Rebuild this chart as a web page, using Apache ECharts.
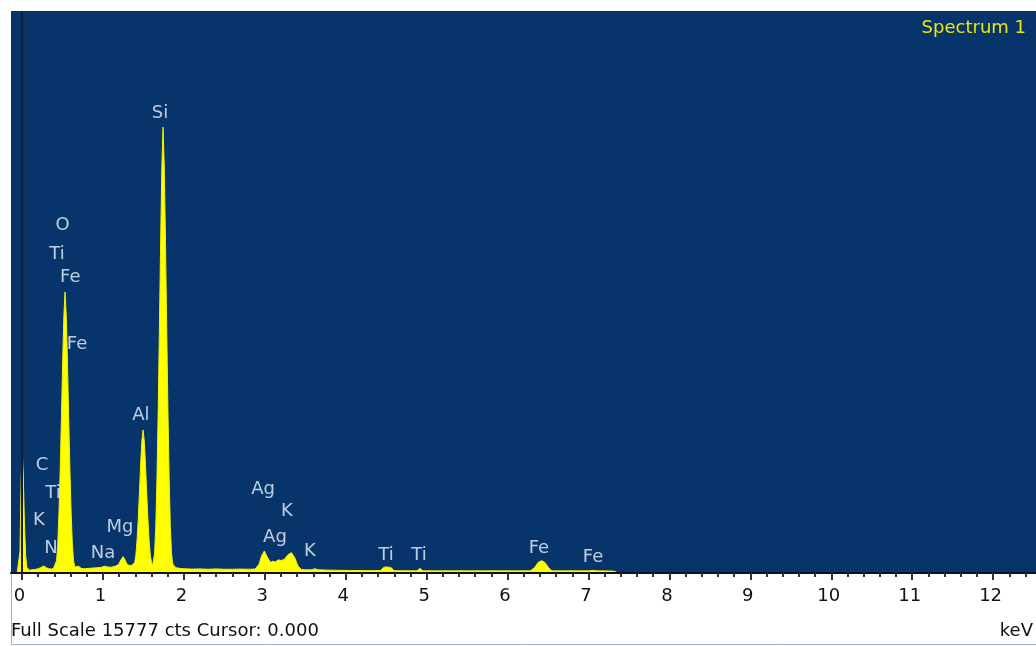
<!DOCTYPE html>
<html>
<head>
<meta charset="utf-8">
<title>Spectrum 1</title>
<script src="https://cdn.jsdelivr.net/npm/echarts@6/dist/echarts.min.js"></script>
<style>
  html, body { margin: 0; padding: 0; background: #ffffff; }
  #chart { width: 1036px; height: 646px; }
</style>
</head>
<body>
<div id="chart"></div>
<script>
// EDS spectrum: energy (keV) vs counts
const FULL_SCALE = 15777;
const CURSOR_KEV = 0.0;
const X_MIN = -0.136;
const X_MAX = 12.53;

// Spectrum samples [energy keV, counts]
const spectrum = [
  [-0.06, 0], [-0.04, 0], [-0.025, 600], [-0.012, 2400], [0.0, 3480], [0.015, 2800],
  [0.03, 1400], [0.045, 500], [0.06, 160], [0.09, 80], [0.12, 90], [0.16, 100],
  [0.2, 120], [0.24, 160], [0.27, 200], [0.3, 150], [0.33, 120], [0.36, 110],
  [0.39, 130], [0.412, 160], [0.427, 350], [0.442, 820], [0.457, 1700], [0.472, 2900],
  [0.487, 4350], [0.502, 5900], [0.517, 7200], [0.532, 7888], [0.547, 7200], [0.562, 5900],
  [0.577, 4350], [0.592, 2900], [0.607, 1700], [0.622, 820], [0.637, 350], [0.652, 170],
  [0.67, 130], [0.70, 190], [0.73, 130], [0.78, 120], [0.83, 130], [0.88, 140],
  [0.93, 150], [0.98, 160], [1.02, 190], [1.06, 170], [1.10, 160], [1.15, 190],
  [1.19, 230], [1.225, 380], [1.25, 460], [1.275, 360], [1.30, 240], [1.33, 210],
  [1.36, 220], [1.376, 240], [1.391, 290], [1.406, 480], [1.421, 900], [1.436, 1500],
  [1.451, 2250], [1.466, 3050], [1.481, 3700], [1.496, 4014], [1.511, 3700], [1.526, 3050],
  [1.541, 2250], [1.556, 1500], [1.571, 900], [1.586, 480], [1.601, 290], [1.615, 220],
  [1.623, 250], [1.638, 550], [1.653, 1300], [1.668, 2700], [1.683, 4600], [1.698, 6900],
  [1.713, 9300], [1.728, 11400], [1.743, 12519], [1.758, 11400], [1.773, 9300], [1.788, 6900],
  [1.803, 4600], [1.818, 2700], [1.833, 1300], [1.848, 550], [1.863, 250], [1.9, 150],
  [1.95, 130], [2.0, 120], [2.1, 110], [2.2, 115], [2.3, 105], [2.4, 115],
  [2.5, 105], [2.6, 105], [2.7, 110], [2.8, 105], [2.88, 110], [2.93, 250],
  [2.96, 480], [2.995, 620], [3.03, 450], [3.07, 300], [3.1, 330], [3.13, 310],
  [3.17, 370], [3.2, 350], [3.24, 380], [3.29, 520], [3.33, 570], [3.37, 430],
  [3.41, 200], [3.45, 100], [3.5, 90], [3.58, 90], [3.62, 120], [3.66, 90],
  [3.8, 80], [3.95, 75], [4.1, 70], [4.3, 65], [4.43, 70], [4.47, 160],
  [4.51, 170], [4.56, 150], [4.6, 65], [4.88, 60], [4.92, 130], [4.95, 60],
  [5.2, 60], [5.6, 60], [6.0, 60], [6.28, 60], [6.33, 140], [6.38, 300],
  [6.42, 345], [6.46, 300], [6.51, 140], [6.55, 60], [7.0, 60], [7.06, 75],
  [7.1, 60], [7.29, 55], [7.31, 0], [7.33, 45], [7.36, 0], [7.38, 45],
  [7.41, 0], [7.43, 45], [7.46, 0], [7.48, 45], [7.51, 0], [7.57, 0],
  [7.58, 45], [7.6, 0], [7.8, 0], [7.81, 45], [7.83, 0], [7.85, 45],
  [7.87, 0], [7.98, 0], [7.99, 45], [8.01, 0], [8.03, 45], [8.05, 0]
];

// Element line labels [symbol, energy keV, counts]
const peakLabels = [
  ['Si', 1.705, 12912], ['O', 0.500, 9760], ['Ti', 0.432, 8954], ['Fe', 0.597, 8300],
  ['Fe', 0.680, 6420], ['Al', 1.470, 4420], ['C', 0.247, 3031], ['Ti', 0.383, 2245],
  ['K', 0.210, 1488], ['N', 0.358, 702], ['Na', 1.000, 561], ['Mg', 1.211, 1291],
  ['Ag', 2.978, 2358], ['K', 3.274, 1740], ['Ag', 3.126, 1010], ['K', 3.559, 617],
  ['Ti', 4.498, 505], ['Ti', 4.905, 505], ['Fe', 6.388, 702], ['Fe', 7.056, 449]
];

// Axis ticks (keV)
const majorTicks = [0, 1, 2, 3, 4, 5, 6, 7, 8, 9, 10, 11, 12];
const MINOR_STEP = 0.2;
const minorTicks = [];
for (let i = 0; i * MINOR_STEP <= 12.4 + 1e-9; i++) {
  minorTicks.push(+(i * MINOR_STEP).toFixed(2));
}

const FONT = 'DejaVu Sans';
const chart = echarts.init(document.getElementById('chart'), null, { renderer: 'canvas' });

chart.setOption({
  backgroundColor: '#ffffff',
  animation: false,
  grid: {
    left: 11, right: 0, top: 11, bottom: 73,
    show: true, backgroundColor: '#07346a', borderWidth: 0
  },
  xAxis: [
    {
      type: 'value', min: X_MIN, max: X_MAX, position: 'bottom', z: 10,
      axisLine: { show: true, onZero: false, lineStyle: { color: '#111111', width: 2 } },
      axisTick: { show: true, customValues: majorTicks, length: 7, lineStyle: { color: '#333333', width: 2 } },
      axisLabel: {
        show: true, customValues: majorTicks, color: '#111111', fontSize: 18,
        fontFamily: FONT, margin: 14, padding: [0, 5, 0, 0],
        formatter: v => String(Math.round(v))
      },
      splitLine: { show: false }
    },
    {
      type: 'value', min: X_MIN, max: X_MAX, position: 'bottom', z: 10,
      axisLine: { show: false, onZero: false },
      axisTick: { show: true, customValues: minorTicks, length: 4, lineStyle: { color: '#333333', width: 2 } },
      axisLabel: { show: false },
      splitLine: { show: false }
    }
  ],
  yAxis: { type: 'value', min: 0, max: FULL_SCALE, show: false, splitLine: { show: false } },
  series: [
    {
      type: 'line', xAxisIndex: 0, data: spectrum, showSymbol: false, symbol: 'none',
      lineStyle: { color: '#f2f200', width: 1 },
      areaStyle: { color: '#ffff00', opacity: 1 },
      z: 2,
      markLine: {
        silent: true, symbol: 'none', animation: false,
        label: { show: false },
        lineStyle: { color: '#1c1c26', width: 2, type: 'solid' },
        data: [{ xAxis: CURSOR_KEV }]
      }
    },
    {
      type: 'scatter', xAxisIndex: 0, symbolSize: 0, silent: true, z: 5,
      data: peakLabels.map(p => ({ name: p[0], value: [p[1], p[2]] })),
      label: {
        show: true, position: 'inside', formatter: '{b}',
        color: '#eef2f7', fontSize: 18, fontFamily: FONT
      }
    }
  ],
  graphic: [
    {
      type: 'text', x: 1026, y: 28, silent: true,
      style: { text: 'Spectrum 1', fill: '#e8e80c', font: '18px "DejaVu Sans"', textAlign: 'right', textVerticalAlign: 'middle' }
    },
    {
      type: 'text', x: 11, y: 631, silent: true,
      style: { text: 'Full Scale 15777 cts Cursor: 0.000', fill: '#111111', font: '18px "DejaVu Sans"', textAlign: 'left', textVerticalAlign: 'middle' }
    },
    {
      type: 'text', x: 1033, y: 631, silent: true,
      style: { text: 'keV', fill: '#111111', font: '18px "DejaVu Sans"', textAlign: 'right', textVerticalAlign: 'middle' }
    },
    {
      type: 'polyline', silent: true,
      shape: { points: [[11.5, 574], [11.5, 644.5], [1036, 644.5]] },
      style: { stroke: '#9fb1c9', lineWidth: 1, fill: null }
    }
  ]
});
</script>
</body>
</html>
